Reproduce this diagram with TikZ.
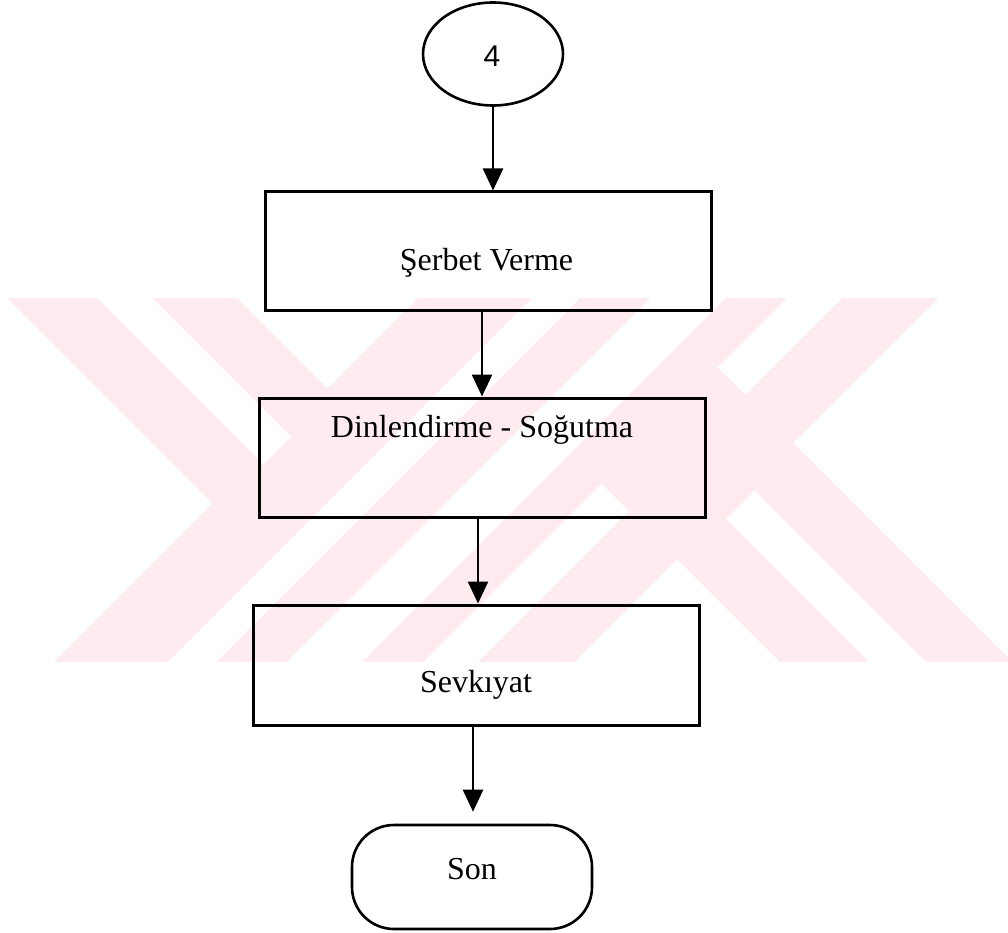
\documentclass[tikz,border=0pt]{standalone}
\usepackage{fontspec}
\setmainfont{Liberation Serif}
\newfontfamily\numfont{Liberation Sans}
\usetikzlibrary{arrows.meta,shapes.geometric,calc}
\definecolor{wmpink}{RGB}{253,235,239}
\begin{document}
\begin{tikzpicture}[x=1pt,y=-1pt,
  stepbox/.style={draw, line width=3pt, minimum width=446pt, minimum height=119pt, inner sep=0pt},
  lbl/.style={anchor=base, font=\fontsize{32}{38}\selectfont, inner sep=0pt},
  arr/.style={line width=2.6pt, -{Triangle[width=20pt,length=22pt]}}]
\useasboundingbox (0,0) rectangle (1008,933);
\fill[white] (0,0) rectangle (1008,933);

% background watermark: striped pink bands
\begin{scope}
  \clip (0,298) rectangle (1008,661);
  \fill[wmpink] (-41,250) -- (189,250) -- (443.5,504.5) -- (328.5,619.5) -- cycle;
  \fill[wmpink] (466,250) -- (698,250) -- (248,700) -- (16,700) -- cycle;
  \fill[wmpink] (774,250) -- (986,250) -- (536,700) -- (324,700) -- cycle;
  \fill[white] (49,250) -- (104,250) -- (291,437) -- (263.5,464.5) -- cycle;
  \fill[white] (580,250) -- (628,250) -- (178,700) -- (130,700) -- cycle;
  \fill[white] (835,250) -- (890,250) -- (440,700) -- (385,700) -- cycle;
  \fill[wmpink] (571,453) -- (687,337) -- (1050,700) -- (818,700) -- cycle;
  \fill[white] (726,519) -- (754.5,490.5) -- (964,700) -- (907,700) -- cycle;
\end{scope}

% flowchart
\node[ellipse, draw, line width=2.6pt, minimum width=140pt, minimum height=103pt, inner sep=0pt] (n4) at (493,54) {};
\node[anchor=base, inner sep=0pt, font=\numfont\fontsize{30}{34}\selectfont] (t4) at (492,67) {4};

\node[stepbox, minimum height=118pt] (serbet) at (488.5,251) {};
\node[lbl] (tserbet) at (486.5,270) {Şerbet Verme};

\node[stepbox] (dinl) at (482,457.5) {};
\node[lbl] (tdinl) at (482,437) {Dinlendirme - Soğutma};

\node[stepbox, minimum height=120pt] (sevk) at (476,665) {};
\node[lbl] (tsevk) at (476,692) {Sevkıyat};

\node[draw, line width=2.6pt, rounded corners=42pt, minimum width=240pt, minimum height=104pt, inner sep=0pt] (son) at (472,877) {};
\node[lbl] (tson) at (472,879) {Son};

\draw[arr] (n4.south) -- ([xshift=4.5pt]serbet.north);
\draw[arr] ([xshift=-6.5pt]serbet.south) -- (dinl.north);
\draw[arr] ([xshift=-4pt]dinl.south) -- ([xshift=2pt]sevk.north);
\draw[arr, shorten >=12pt] ([xshift=-3pt]sevk.south) -- ([xshift=1pt]son.north);
\end{tikzpicture}
\end{document}
